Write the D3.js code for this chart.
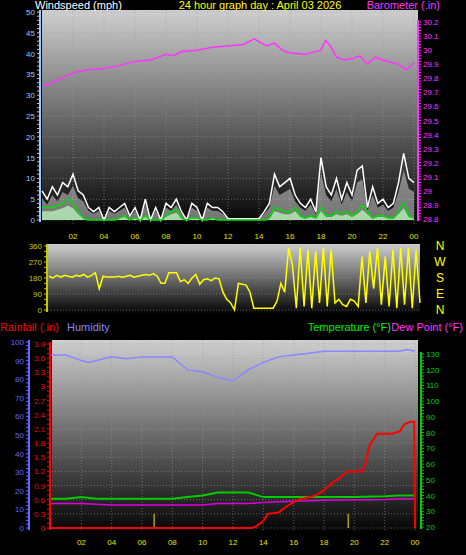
<!DOCTYPE html>
<html><head><meta charset="utf-8">
<script src="https://cdn.jsdelivr.net/npm/d3@7"></script>
<style>body{margin:0;background:#000}svg{display:block}text{font-family:"Liberation Sans",Arial,sans-serif}</style>
</head><body><svg id="c" width="466" height="555"></svg>
<script>
// 20-minute wind values (mph), hour 0..24
const windGust = [7,5,8, 6,9,8, 11,7,6, 3,2,3, 0,3,2, 3,4,1, 3,0,5, 0,3,0, 4,3,5, 2,0,4, 3,0,4, 3,3,2,
  0.3,0.3,0.3, 0.3,0.3,0.3, 0.3,2,4, 11,8,9, 10,6,4, 3,5,2, 15,8,6, 10,5,9, 6,12,13, 3,8,4, 5,3,4, 9,16,10, 9];
const windAvg = [3,3,3, 3.5,4,5, 4,2,0.5, 0,0,0, 0,0,0, 0.5,1,0, 0.5,0,1, 0,0,0, 1,2,2.5, 0.5,0,0.5, 0.5,0,0, 0.5,0,0,
  0,0,0, 0,0,0, 0,0,0.5, 3,2.5,2, 2,3,1, 0.5,1,0.5, 3,1,1, 2,1.5,2, 1,2,3.5, 2,0.5,1, 1,0.5,0.5, 2,4,1, 0.5];
const baroHours = [0.1,0.5,2,3,4,5,6,7,8,8.5,9,10,11,12,13,13.7,14,14.5,15,15.5,16,17,18,18.3,18.6,19,19.5,20,20.5,21,21.5,22,23,23.5,24];
const baroValues = [29.75,29.76,29.84,29.86,29.87,29.89,29.92,29.93,29.97,29.96,29.99,30.0,30.02,30.03,30.04,30.08,30.06,30.03,30.05,30.0,29.98,29.97,30.0,30.07,30.03,29.95,29.93,29.94,29.96,29.9,29.95,29.93,29.9,29.86,29.91];
// 15-minute wind direction (degrees)
const windDir = [190,180,195,185, 195,190,185,195, 190,200,185,195, 210,120,190,185, 185,185,190,185, 190,195,185,190,
  195,200,195,205, 190,150,150,210, 210,210,160,170, 150,180,200,145, 170,175,165,180, 175,100,60,40,
  0,150,145,140, 100,10,10,10, 10,10,10,50, 150,100,350,250, 10,350,20,340, 10,330,40,350, 20,340,40,60,
  30,20,60,50, 20,300,40,330, 120,350,30,300, 20,340,10,350, 30,350,10,340, 40];
const humHours = [0,1,2,2.5,3,4,5,6,7,8,9,10,11,12,12.5,13,14,15,16,17,18,19,23,23.5,24];
const humValues = [93,93,90,89,90,92,91,92,92,92,85,84,81,79,82,85,89,92,93,94,95,95,95,96,95];
const tempHours = [0,1,2,3,4,7,8,9,10,11,12,13,14,16,20,22,23,24];
const tempValues = [38,38,39,38,38,38,38,39,40,42,42,42,39,39,39,39.5,40,40];
const dewHours = [0,2,4,7,10,11,12,13,15,18,22,23,24];
const dewValues = [35,35,34,34,34,35,35,35,36,37,37.5,38,38];
const rainHours = [0,13.2,13.5,14,14.3,15,15.5,16,16.5,17,17.5,18,18.5,19,19.5,20.5,20.7,21,21.5,22.5,23,23.3,23.7,23.95,24];
const rainValues = [0,0,0.03,0.15,0.3,0.33,0.45,0.55,0.62,0.65,0.7,0.8,0.95,1.05,1.2,1.2,1.35,1.75,2.0,2.0,2.05,2.2,2.25,2.25,0];
const rateHours = [6.8,19.6];
const rateValues = [0.3,0.3];
const hourTicks = [2,4,6,8,10,12,14,16,18,20,22,24];
const hourLabel = h => h === 24 ? "00" : String(h).padStart(2, "0");

const svg = d3.select("#c");
const defs = svg.append("defs");
const grad = defs.append("linearGradient").attr("id", "bg").attr("x1", 0).attr("y1", 0).attr("x2", 0).attr("y2", 1);
grad.append("stop").attr("offset", "0%").attr("stop-color", "#cfcfcf");
grad.append("stop").attr("offset", "100%").attr("stop-color", "#050505");

function panel(x0, x1, y0, y1) {
  svg.append("rect").attr("x", x0).attr("y", y0).attr("width", x1 - x0).attr("height", y1 - y0).attr("fill", "url(#bg)");
}
function grid(x, y, xs, ys, x0, x1, y0, y1) {
  const g = svg.append("g").attr("stroke", "#9a9a9a").attr("stroke-opacity", 0.55).attr("stroke-dasharray", "1,2");
  xs.forEach(v => g.append("line").attr("x1", x(v)).attr("x2", x(v)).attr("y1", y0).attr("y2", y1));
  ys.forEach(v => g.append("line").attr("x1", x0).attr("x2", x1).attr("y1", y(v)).attr("y2", y(v)));
}
function label(x, y, t, c, anchor, size) {
  svg.append("text").attr("x", x).attr("y", y).attr("fill", c).attr("font-size", size || 11)
    .attr("text-anchor", anchor || "start").text(t);
}
function xAxis(x, y, color) {
  hourTicks.forEach(h => label(x(h), y, hourLabel(h), color || "#e0e000", "middle", 8));
}
function vAxis(scale, xPos, ticks, fmt, color, side, minor) {
  const g = svg.append("g");
  g.append("line").attr("x1", xPos).attr("x2", xPos).attr("y1", scale.range()[1] - 2).attr("y2", scale.range()[0] + 2)
    .attr("stroke", color).attr("stroke-width", 2);
  const d = scale.domain();
  if (minor) d3.range(d[0], d[1] + minor / 2, minor).forEach(v =>
    g.append("line").attr("x1", xPos).attr("x2", xPos + side * 3).attr("y1", scale(v)).attr("y2", scale(v)).attr("stroke", color));
  ticks.forEach(v => label(xPos + side * 5, scale(v) + 3, fmt(v), color, side < 0 ? "end" : "start", 8));
}

// ---- top: wind + barometer
const xT = d3.scaleLinear().domain([0, 24]).range([42, 414]);
const yW = d3.scaleLinear().domain([0, 50]).range([220, 12]);
const yB = d3.scaleLinear().domain([28.8, 30.2]).range([219, 22]);
panel(42, 418, 10, 224);
grid(xT, yW, hourTicks, d3.range(0, 51, 5), 42, 418, 10, 224);
const t20 = (d, i) => xT(i / 3);
svg.append("path").attr("d", d3.area().x(t20).y0(yW(0)).y1(d => yW(d * 0.75))(windGust))
  .attr("fill", "#d0d0d0").attr("fill-opacity", 0.55);
svg.append("path").attr("d", d3.line().x(t20).y(d => yW(d))(windGust))
  .attr("fill", "none").attr("stroke", "#fff").attr("stroke-width", 1.5);
svg.append("path").attr("d", d3.area().x(t20).y0(yW(0)).y1(d => yW(d * 0.7))(windAvg))
  .attr("fill", "#b8f0b8").attr("fill-opacity", 0.8);
svg.append("path").attr("d", d3.line().x(t20).y(d => yW(d)).curve(d3.curveMonotoneX)(windAvg))
  .attr("fill", "none").attr("stroke", "#00dd00").attr("stroke-width", 1.5);
svg.append("path").attr("d", d3.line().x((d, i) => xT(baroHours[i])).y(d => yB(d))(baroValues))
  .attr("fill", "none").attr("stroke", "#ff33ff").attr("stroke-width", 1.5);
vAxis(yW, 40, d3.range(0, 51, 5), String, "#9cc8ff", -1, 1);
vAxis(yB, 418, d3.range(28.8, 30.21, 0.1), v => String(+v.toFixed(1)), "#ff33ff", 1, 0.02);
xAxis(xT, 239);
label(35, 9, "Windspeed (mph)", "#fff", "start");
label(260, 9, "24 hour graph day : April 03 2026", "#ffff00", "middle");
label(440, 9, "Barometer (.in)", "#ff33ff", "end");

// ---- middle: direction
const xD = d3.scaleLinear().domain([0, 24]).range([49, 420]);
const yD = d3.scaleLinear().domain([0, 360]).range([310, 246]);
panel(48, 420, 244, 313);
grid(xD, yD, [], [0, 90, 180, 270, 360], 48, 420, 244, 313);
svg.append("path").attr("d", d3.line().x((d, i) => xD(i / 4)).y(d => yD(d))(windDir))
  .attr("fill", "none").attr("stroke", "#ffff00").attr("stroke-width", 1.5);
vAxis(yD, 47, [0, 90, 180, 270, 360], String, "#c8c800", -1, 30);
["N", "W", "S", "E", "N"].forEach((t, i) => label(440, yD(360 - i * 90) + 4, t, "#ffff00", "middle", 12));

// ---- bottom: rain, humidity, temperature
const xR = d3.scaleLinear().domain([0, 24]).range([51, 415]);
const yR = d3.scaleLinear().domain([0, 3.9]).range([528, 344]);
const yH = d3.scaleLinear().domain([0, 100]).range([528, 342]);
const yTm = d3.scaleLinear().domain([20, 130]).range([527, 354]);
panel(52, 418, 340, 531);
grid(xR, yR, hourTicks, d3.range(0, 3.91, 0.3), 52, 418, 340, 531);
svg.append("path").attr("d", d3.line().x((d, i) => xR(humHours[i])).y(d => yH(d))(humValues))
  .attr("fill", "none").attr("stroke", "#8888ff").attr("stroke-width", 1.5);
svg.append("path").attr("d", d3.line().x((d, i) => xR(tempHours[i])).y(d => yTm(d))(tempValues))
  .attr("fill", "none").attr("stroke", "#00cc00").attr("stroke-width", 2);
svg.append("path").attr("d", d3.line().x((d, i) => xR(dewHours[i])).y(d => yTm(d))(dewValues))
  .attr("fill", "none").attr("stroke", "#dd00dd").attr("stroke-width", 1.5);
rateHours.forEach((h, i) => svg.append("line").attr("x1", xR(h)).attr("x2", xR(h))
  .attr("y1", yR(0)).attr("y2", yR(rateValues[i])).attr("stroke", "#b0a000").attr("stroke-width", 1.5));
svg.append("path").attr("d", d3.line().x((d, i) => xR(rainHours[i])).y(d => yR(d))(rainValues))
  .attr("fill", "none").attr("stroke", "#ff0000").attr("stroke-width", 2);
vAxis(yH, 29, d3.range(0, 101, 10), String, "#6666ff", -1, 2);
vAxis(yR, 50, d3.range(0, 3.91, 0.3), v => String(+v.toFixed(1)), "#ff0000", -1, 0.1);
vAxis(yTm, 421, d3.range(20, 131, 10), String, "#00cc00", 1, 2);
xAxis(xR, 545);
label(0, 331, "Rainfall (.in)", "#ff0000", "start");
label(67, 331, "Humidity", "#8888ff", "start");
label(391, 331, "Temperature (°F)", "#00ee00", "end");
label(463, 331, "Dew Point (°F)", "#ff33ff", "end");
</script></body></html>
